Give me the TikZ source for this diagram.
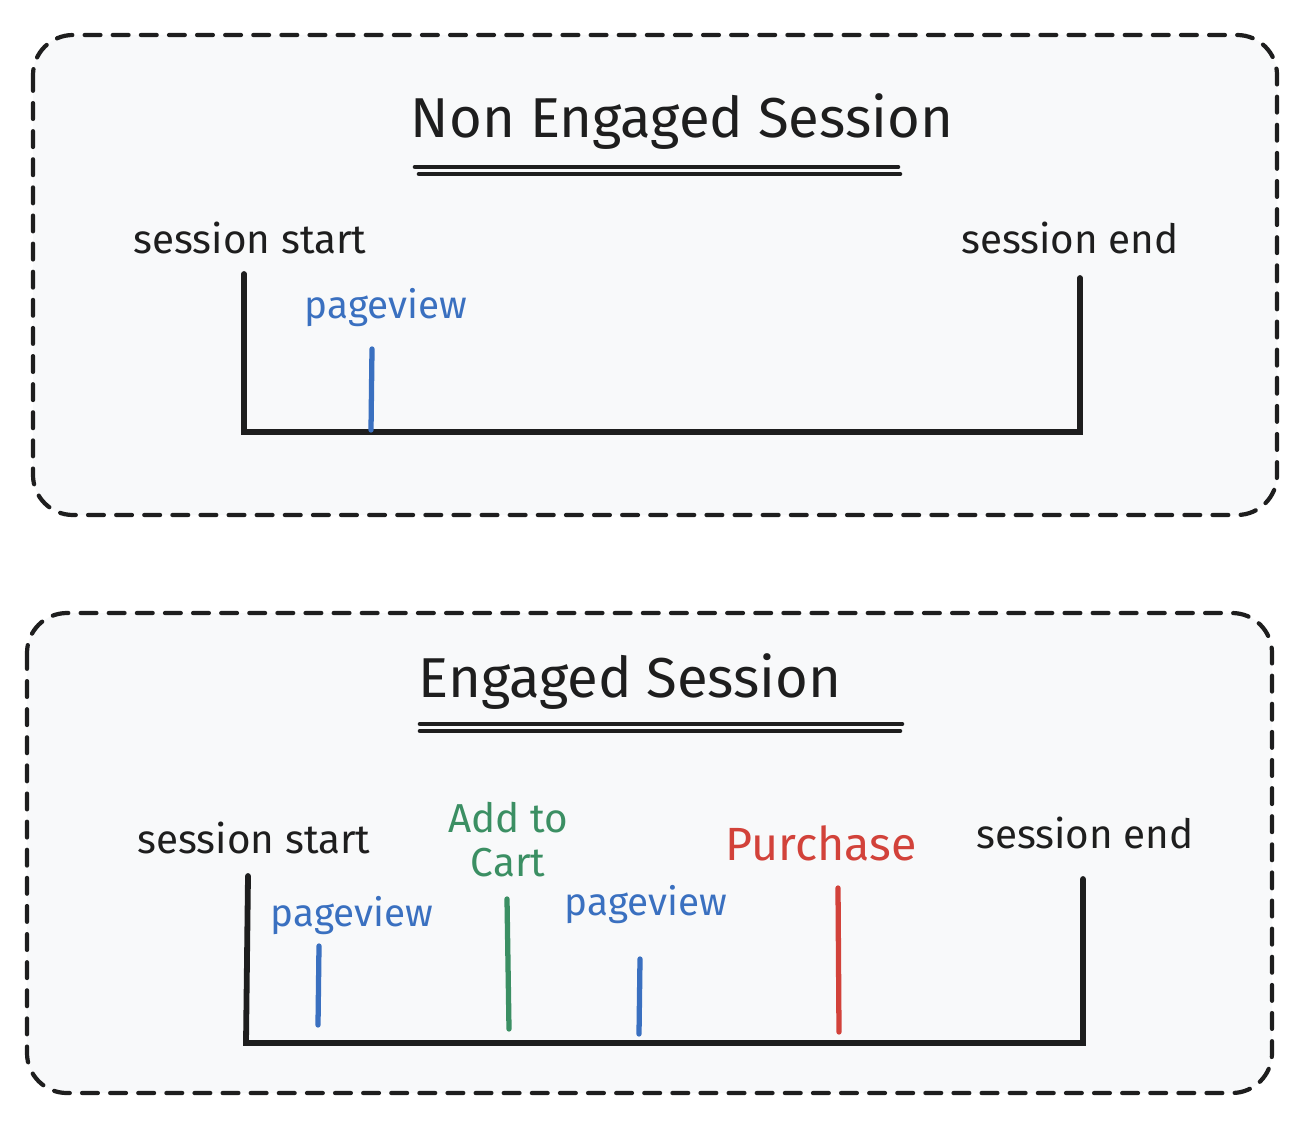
\documentclass[tikz,border=0pt]{standalone}
\usepackage{fontspec}
\setmainfont{Fira Sans}
\usepackage{xcolor}
\usetikzlibrary{positioning}

\definecolor{inkblack}{HTML}{1E1E1E}
\definecolor{pvblue}{HTML}{3A70C0}
\definecolor{cartgreen}{HTML}{3B8F63}
\definecolor{buyred}{HTML}{D2423A}
\definecolor{panelbg}{HTML}{F8F9FA}

\begin{document}
\begin{tikzpicture}[
    x=0.02cm, y=-0.02cm,
    panel/.style={draw=inkblack, fill=panelbg, line width=2.4pt, dash pattern=on 9pt off 7pt, rounded corners=0.8cm, line cap=round},
    title/.style={font=\fontsize{32}{36}\selectfont, text=inkblack, inner sep=0pt},
    lbl/.style={font=\fontsize{23}{25}\selectfont, text=inkblack, inner sep=0pt, align=center},
    axis/.style={draw=inkblack, line width=3.3pt, line cap=round},
    tick/.style={line width=3pt, line cap=round},
    uline/.style={draw=inkblack, line width=2.6pt, line cap=round}]
    \useasboundingbox (0,0) rectangle (1310,1132);

    % non engaged
    \draw[panel] (33,35) rectangle (1277,515);
    \node[title] (t1) at (682,122) {Non Engaged Session};
    \draw[uline] (415,167) -- (898,167);
    \draw[uline] (419,174) -- (900,174);
    \node[lbl] (s1) at (250,238) {session start};
    \node[lbl] (e1) at (1070,238) {session end};
    \node[lbl, text=pvblue, font=\fontsize{22}{25}\selectfont] (p1) at (386,308) {pageview};
    \coordinate (a1) at (244,274);
    \coordinate (b1) at (244,432);
    \coordinate (c1) at (1080,432);
    \coordinate (d1) at (1080,278);
    \draw[axis] (a1) -- (b1) -- (c1) -- (d1);
    \draw[tick, draw=pvblue] (372,349) -- (371,430);

    % engaged
    \draw[panel] (27,613) rectangle (1272,1093);
    \node[title] (t2) at (630,682) {Engaged Session};
    \draw[uline] (420,724) -- (902,724);
    \draw[uline] (420,731) -- (900,731);
    \node[lbl] (s2) at (254,838) {session start};
    \node[lbl] (e2) at (1085,833) {session end};
    \node[lbl, text=pvblue, font=\fontsize{22}{25}\selectfont] (p2) at (352,916) {pageview};
    \node[lbl, text=cartgreen, font=\fontsize{23}{25}\selectfont] (ac) at (508,840) {Add to\\Cart};
    \node[lbl, text=pvblue, font=\fontsize{22}{25}\selectfont] (p3) at (646,905) {pageview};
    \node[lbl, text=buyred, font=\fontsize{26.5}{30}\selectfont] (pu) at (821,843) {Purchase};
    \coordinate (a2) at (248,876);
    \coordinate (b2) at (246,1043);
    \coordinate (c2) at (1083,1043);
    \coordinate (d2) at (1083,879);
    \draw[axis] (a2) -- (b2) -- (c2) -- (d2);
    \draw[tick, draw=pvblue] (319,946) -- (318,1025);
    \draw[tick, draw=cartgreen] (507,899) -- (509,1029);
    \draw[tick, draw=pvblue] (640,959) -- (639,1034);
    \draw[tick, draw=buyred] (838,888) -- (839,1032);
\end{tikzpicture}
\end{document}
